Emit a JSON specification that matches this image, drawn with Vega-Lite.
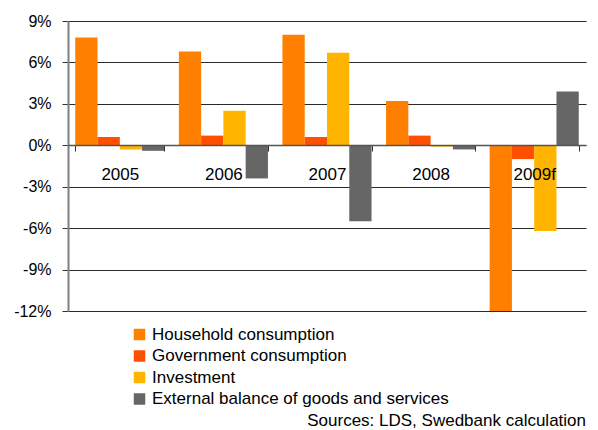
{
  "$schema": "https://vega.github.io/schema/vega-lite/v6.json",
  "width": 518,
  "height": 290,
  "autosize": {"type": "none"},
  "padding": {"left": 68, "top": 21, "right": 12, "bottom": 119},
  "background": "white",
  "config": {
    "font": "Liberation Sans",
    "view": {"stroke": null}
  },
  "title": {
    "text": "Sources: LDS, Swedbank calculation",
    "orient": "bottom",
    "anchor": "end",
    "fontSize": 17,
    "fontWeight": "normal",
    "color": "black",
    "offset": 6
  },
  "data": {
    "values": [
      {"year": "2005", "series": "Household consumption", "value": 7.8},
      {"year": "2005", "series": "Government consumption", "value": 0.6},
      {"year": "2005", "series": "Investment", "value": -0.3},
      {"year": "2005", "series": "External balance of goods and services", "value": -0.4},
      {"year": "2006", "series": "Household consumption", "value": 6.8},
      {"year": "2006", "series": "Government consumption", "value": 0.7},
      {"year": "2006", "series": "Investment", "value": 2.5},
      {"year": "2006", "series": "External balance of goods and services", "value": -2.4},
      {"year": "2007", "series": "Household consumption", "value": 8.0},
      {"year": "2007", "series": "Government consumption", "value": 0.6},
      {"year": "2007", "series": "Investment", "value": 6.7},
      {"year": "2007", "series": "External balance of goods and services", "value": -5.5},
      {"year": "2008", "series": "Household consumption", "value": 3.2},
      {"year": "2008", "series": "Government consumption", "value": 0.7},
      {"year": "2008", "series": "Investment", "value": -0.1},
      {"year": "2008", "series": "External balance of goods and services", "value": -0.3},
      {"year": "2009f", "series": "Household consumption", "value": -12.0},
      {"year": "2009f", "series": "Government consumption", "value": -1.0},
      {"year": "2009f", "series": "Investment", "value": -6.2},
      {"year": "2009f", "series": "External balance of goods and services", "value": 3.9}
    ]
  },
  "mark": {"type": "bar"},
  "encoding": {
    "x": {
      "field": "year",
      "type": "nominal",
      "sort": null,
      "scale": {"paddingInner": 0.14, "paddingOuter": 0.07},
      "axis": {
        "title": null,
        "orient": "bottom",
        "offset": -166,
        "labelAngle": 0,
        "labelFontSize": 17,
        "labelColor": "black",
        "labelPadding": 15,
        "tickBand": "extent",
        "tickSize": 6,
        "tickColor": "#333",
        "domainColor": "#555",
        "domainWidth": 1.5,
        "zindex": 1
      }
    },
    "xOffset": {
      "field": "series",
      "type": "nominal",
      "sort": ["Household consumption", "Government consumption", "Investment", "External balance of goods and services"],
      "scale": {"paddingInner": 0, "paddingOuter": 0}
    },
    "y": {
      "field": "value",
      "type": "quantitative",
      "scale": {"domain": [-12, 9], "nice": false, "zero": false},
      "axis": {
        "title": null,
        "values": [-12, -9, -6, -3, 0, 3, 6, 9],
        "labelExpr": "datum.value + '%'",
        "labelFontSize": 16,
        "labelColor": "black",
        "labelPadding": 11,
        "tickSize": 6,
        "tickColor": "#333",
        "domainColor": "#808080",
        "domainWidth": 2,
        "gridColor": "#2a2a2a",
        "gridWidth": 1.2
      }
    },
    "color": {
      "field": "series",
      "type": "nominal",
      "sort": ["Household consumption", "Government consumption", "Investment", "External balance of goods and services"],
      "scale": {
        "domain": ["Household consumption", "Government consumption", "Investment", "External balance of goods and services"],
        "range": ["#FF8000", "#FF4F00", "#FFB400", "#666666"]
      },
      "legend": {
        "title": null,
        "orient": "none",
        "legendX": 63,
        "legendY": 305,
        "symbolType": "square",
        "symbolSize": 132,
        "symbolStrokeWidth": 0,
        "symbolOpacity": 1,
        "labelFontSize": 17,
        "labelColor": "black",
        "labelOffset": 4,
        "rowPadding": 3.5,
        "labelLimit": 500
      }
    }
  }
}
